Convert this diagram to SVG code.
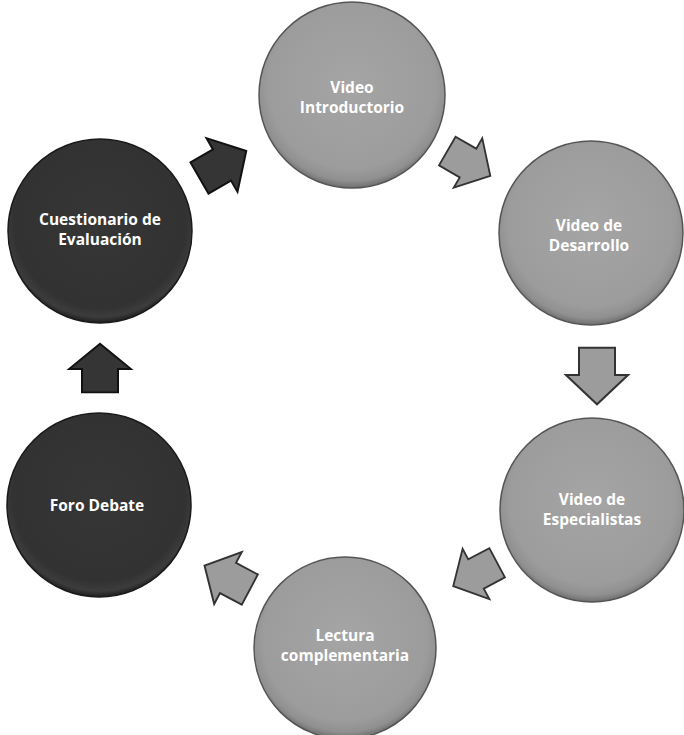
<svg xmlns="http://www.w3.org/2000/svg" width="684" height="735" viewBox="0 0 684 735">
<defs>
<radialGradient id="gl" cx="50%" cy="45%" r="55%">
<stop offset="0" stop-color="#a5a5a5"/>
<stop offset="0.82" stop-color="#9c9c9c"/>
<stop offset="0.93" stop-color="#909090"/>
<stop offset="1" stop-color="#6e6e6e"/>
</radialGradient>
<radialGradient id="gd" cx="50%" cy="45%" r="55%">
<stop offset="0" stop-color="#363636"/>
<stop offset="0.85" stop-color="#323232"/>
<stop offset="0.94" stop-color="#3c3c3c"/>
<stop offset="1" stop-color="#1e1e1e"/>
</radialGradient>
<path id="arr" d="M-26,-18 H0 V-31 L28,0 L0,31 V18 H-26 Z"/>
</defs>
<style>
.cl{fill:url(#gl);stroke:#555;stroke-width:1.5}
.cd{fill:url(#gd);stroke:#1a1a1a;stroke-width:1.5}
.t{font-family:"Open Sans","DejaVu Sans",sans-serif;font-weight:bold;font-size:15.5px;fill:#fff;text-anchor:middle}
.al{fill:#9c9c9c;stroke:#333;stroke-width:2}
.ad{fill:#353535;stroke:#111;stroke-width:2}
</style>
<rect width="684" height="735" fill="#fff"/>
<g id="connectors">
<use href="#arr" class="ad" transform="translate(222,165) rotate(-30)"/>
<use href="#arr" class="al" transform="translate(468,163) rotate(30) scale(0.92)"/>
<use href="#arr" class="al" transform="translate(597,375) rotate(90) scale(1.05,1)"/>
<use href="#arr" class="al" transform="translate(476,574) rotate(152) scale(0.92)"/>
<use href="#arr" class="al" transform="translate(228,578) rotate(208) scale(0.95)"/>
<use href="#arr" class="ad" transform="translate(100,369) rotate(-90) scale(0.9,1)"/>
</g>
<g id="n1"><circle class="cl" cx="352" cy="95" r="93"/><text class="t" x="352" y="93">Video</text><text class="t" x="352" y="113">Introductorio</text></g>
<g id="n2"><circle class="cl" cx="591" cy="233" r="92"/><text class="t" x="589" y="231">Video de</text><text class="t" x="589" y="251">Desarrollo</text></g>
<g id="n3"><circle class="cl" cx="592" cy="510" r="92"/><text class="t" x="592" y="505">Video de</text><text class="t" x="592" y="525">Especialistas</text></g>
<g id="n4"><circle class="cl" cx="345" cy="648" r="91"/><text class="t" x="345" y="641">Lectura</text><text class="t" x="345" y="661">complementaria</text></g>
<g id="n5"><circle class="cd" cx="99" cy="505" r="92"/><text class="t" x="97" y="511">Foro Debate</text></g>
<g id="n6"><circle class="cd" cx="100" cy="231" r="92"/><text class="t" x="100" y="225">Cuestionario de</text><text class="t" x="100" y="245">Evaluación</text></g>
</svg>
